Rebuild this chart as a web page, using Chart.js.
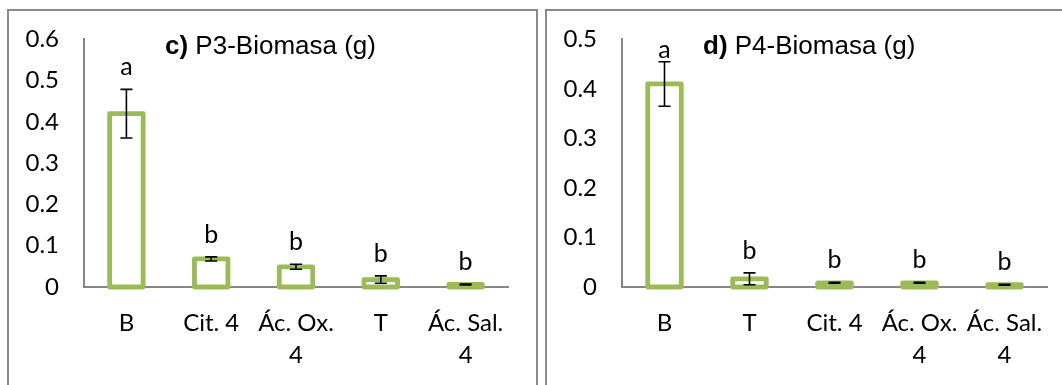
<!DOCTYPE html>
<html>
<head>
<meta charset="utf-8">
<script src="https://cdn.jsdelivr.net/npm/chart.js@4.4.1/dist/chart.umd.min.js"></script>
<style>
  body { margin: 0; background: #fff; overflow: hidden; }
  .panel { position: absolute; top: 9px; height: 400px; width: 527px; border: 2px solid #8a8a8a; background: #fff; }
  #panelP3 { left: 7px; }
  #panelP4 { left: 545px; width: 600px; }
  canvas { position: absolute; top: 0; }
  #chartP3 { left: 9px; }
  #chartP4 { left: 547px; }
</style>
</head>
<body>
<div class="panel" id="panelP3"></div>
<div class="panel" id="panelP4"></div>
<canvas id="chartP3" width="527" height="385"></canvas>
<canvas id="chartP4" width="527" height="385"></canvas>
<script>
// P3 biomass (g)
const catsP3 = ["B", "Cit. 4", ["Ác. Ox.", "4"], "T", ["Ác. Sal.", "4"]];
const valsP3 = [0.42, 0.068, 0.049, 0.018, 0.006];
const errP3 = [0.059, 0.005, 0.006, 0.009, 0.001];
const lettersP3 = ["a", "b", "b", "b", "b"];

// P4 biomass (g)
const catsP4 = ["B", "T", "Cit. 4", ["Ác. Ox.", "4"], ["Ác. Sal.", "4"]];
const valsP4 = [0.41, 0.0165, 0.0085, 0.0085, 0.0045];
const errP4 = [0.045, 0.012, 0.001, 0.001, 0.001];
const lettersP4 = ["a", "b", "b", "b", "b"];

const green = "#9bbb59";
const axisGray = "#868686";
const tickFont = { family: "Lato", size: 24 };

// outlined bars, error bars, letters and title
const decoPlugin = {
  id: "deco",
  afterDatasetsDraw(chart, args, opts) {
    const ctx = chart.ctx;
    const meta = chart.getDatasetMeta(0);
    const y = chart.scales.y;
    const area = chart.chartArea;
    ctx.save();
    meta.data.forEach((bar, i) => {
      // green outline centred on the bar edges
      ctx.strokeStyle = green;
      ctx.lineWidth = 4.8;
      ctx.lineJoin = "round";
      ctx.strokeRect(bar.x - bar.width / 2, bar.y, bar.width, bar.base - bar.y);

      // error bar
      const v = opts.vals[i], e = opts.errs[i];
      const top = y.getPixelForValue(v + e);
      const bot = y.getPixelForValue(v - e);
      ctx.strokeStyle = "#000";
      ctx.lineWidth = 1.6;
      ctx.beginPath();
      ctx.moveTo(bar.x, top); ctx.lineTo(bar.x, bot);
      ctx.moveTo(bar.x - 6, top); ctx.lineTo(bar.x + 6, top);
      ctx.moveTo(bar.x - 6, bot); ctx.lineTo(bar.x + 6, bot);
      ctx.stroke();

      // significance letter
      ctx.fillStyle = "#000";
      ctx.font = "25px Lato";
      ctx.textAlign = "center";
      ctx.textBaseline = "middle";
      ctx.fillText(opts.letters[i], bar.x, Math.max(top - 22, area.top + 11));
    });

    // title: bold prefix + normal text
    const tx = area.left + 81, ty = area.top + 7.5;
    ctx.textAlign = "left";
    ctx.textBaseline = "middle";
    ctx.font = "bold 26px 'Liberation Sans'";
    ctx.fillText(opts.bold, tx, ty);
    const w = ctx.measureText(opts.bold).width;
    ctx.font = "26px 'Liberation Sans'";
    ctx.fillText(opts.rest, tx + w, ty);
    ctx.restore();
  }
};

function makeChart(id, cats, vals, errs, letters, max, bold, rest, padRight) {
  return new Chart(document.getElementById(id).getContext("2d"), {
    type: "bar",
    data: {
      labels: cats,
      datasets: [{
        data: vals,
        backgroundColor: "#fff",
        borderWidth: 0,
        categoryPercentage: 1,
        barPercentage: 0.395
      }]
    },
    options: {
      responsive: false,
      animation: false,
      devicePixelRatio: 1,
      layout: { padding: { top: 0, right: padRight, left: 0, bottom: 0 } },
      plugins: {
        legend: { display: false },
        tooltip: { enabled: false },
        deco: { vals: vals, errs: errs, letters: letters, bold: bold, rest: rest }
      },
      scales: {
        x: {
          grid: { display: false, drawTicks: false },
          border: { display: true, color: axisGray, width: 2 },
          ticks: { color: "#000", font: { family: "Lato", size: 24, lineHeight: 1.33 }, padding: 20, maxRotation: 0, autoSkip: false },
          afterFit(scale) { scale.height = 98; }
        },
        y: {
          min: 0,
          max: max,
          grid: { display: false, drawTicks: false },
          border: { display: true, color: axisGray, width: 2 },
          ticks: { stepSize: 0.1, color: "#000", font: tickFont, padding: 25 },
          afterFit(scale) { scale.width = 75; }
        }
      }
    },
    plugins: [decoPlugin]
  });
}

makeChart("chartP3", catsP3, valsP3, errP3, lettersP3, 0.6, "c)", " P3-Biomasa (g)", 28);
makeChart("chartP4", catsP4, valsP4, errP4, lettersP4, 0.5, "d)", " P4-Biomasa (g)", 27);
</script>
</body>
</html>
